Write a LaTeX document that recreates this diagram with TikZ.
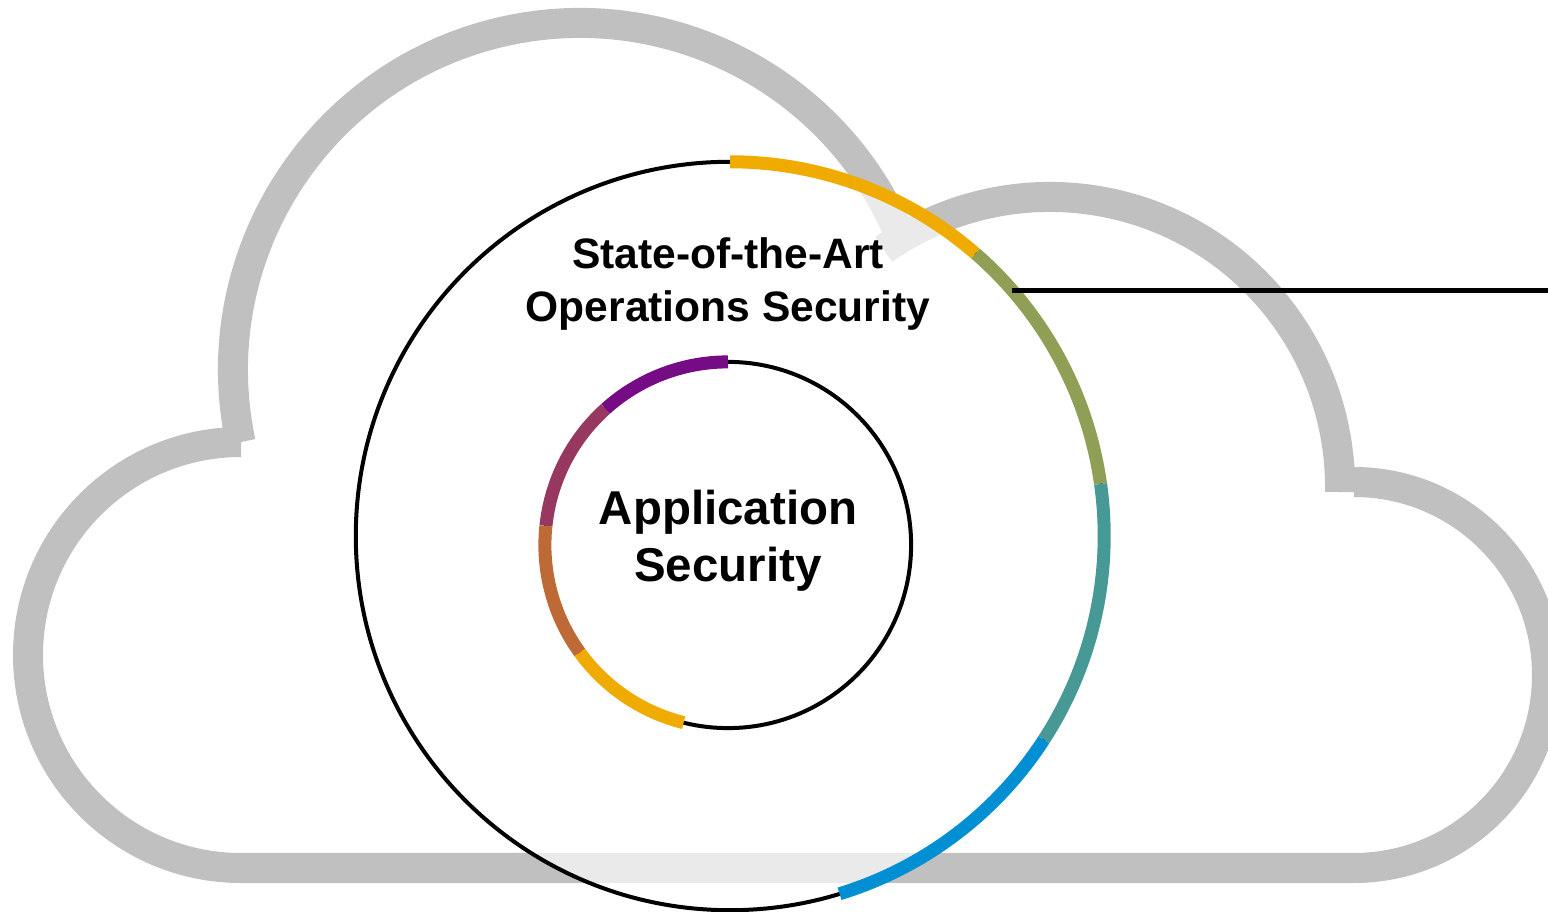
\documentclass[tikz,border=0pt]{standalone}
\usepackage{fontspec}
\setmainfont{Liberation Sans}
\definecolor{cloudgray}{HTML}{C0C0C0}
\definecolor{sapgold}{HTML}{F0AB00}
\definecolor{sapolive}{HTML}{8FA056}
\definecolor{sapteal}{HTML}{469994}
\definecolor{sapblue}{HTML}{008FD3}
\definecolor{sappurple}{HTML}{760C85}
\definecolor{sapplum}{HTML}{963860}
\definecolor{saprust}{HTML}{BE6A37}
\begin{document}
\begin{tikzpicture}[x=.01cm, y=.01cm,
  cloudline/.style={draw=cloudgray, line width=0.3cm},
  ring/.style={circle, draw, line width=0.04cm, inner sep=0pt, outer sep=0pt},
  seg/.style={line width=0.13cm},
  title/.style={align=center, inner sep=0pt, font=\bfseries}]
\useasboundingbox (0,0) rectangle (1548,912);
\clip (0,0) rectangle (1548,912);
% cloud
\draw[cloudline] (240.6,469.9) arc[start angle=192, end angle=21, radius=347]
  (883.7,662.6) arc[start angle=125, end angle=-1, radius=290]
  (241,470) arc[start angle=90, end angle=270, radius=213] -- (1354,44)
  arc[start angle=-90, end angle=90, radius=193];
% rings
\node[ring, fill=white, fill opacity=0.67, minimum size=7.48cm] (opsec) at (730,376){};
\node[ring, fill=white, minimum size=3.66cm] (appsec) at (728,367){};
\draw[seg, sapgold](opsec.90) arc[start angle=90, end angle=49, radius=374];
\draw[seg, sapolive](opsec.49) arc[start angle=49, end angle=8, radius=374];
\draw[seg, sapteal](opsec.8) arc[start angle=8, end angle=-33, radius=374];
\draw[seg, sapblue](opsec.-33) arc[start angle=-33, end angle=-73, radius=374];
\draw[seg, sappurple](appsec.90) arc[start angle=90, end angle=132, radius=183];
\draw[seg, sapplum](appsec.132) arc[start angle=132, end angle=174, radius=183];
\draw[seg, saprust](appsec.174) arc[start angle=174, end angle=216, radius=183];
\draw[seg, sapgold](appsec.216) arc[start angle=216, end angle=256, radius=183];
% texts
\node[title, font=\fontsize{12.1pt}{15.1pt}\selectfont\bfseries] (opsec-text) at (728,628){State-of-the-Art\\Operations Security};
\node[title, font=\fontsize{13.5pt}{16.2pt}\selectfont\bfseries] (appsec-text) at (728,371){Application\\Security};
% callout
\coordinate (callout) at (1548,625);
\draw[line width=0.05cm](opsec.41.7) -- (opsec.41.7 -| callout);
\end{tikzpicture}
\end{document}
